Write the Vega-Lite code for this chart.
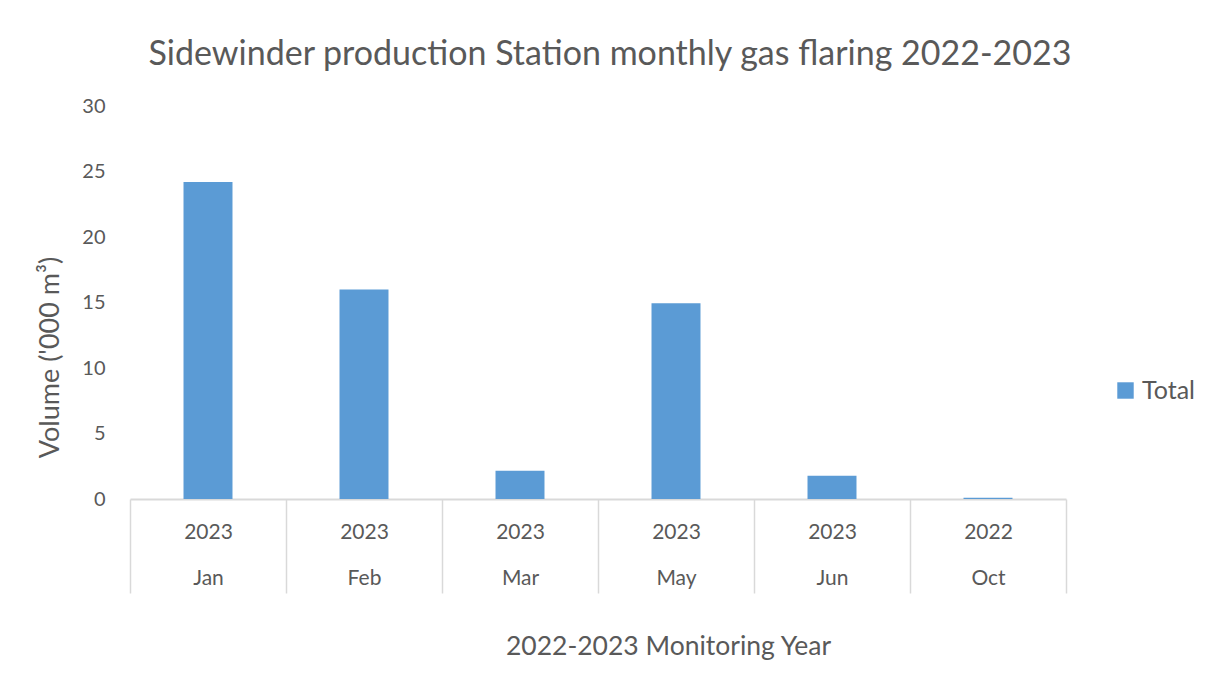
{
  "$schema": "https://vega.github.io/schema/vega-lite/v6.json",
  "autosize": "none",
  "width": 936,
  "height": 393,
  "padding": {"left": 130, "top": 106, "right": 146, "bottom": 197},
  "background": "white",
  "title": {
    "text": "Sidewinder production Station monthly gas flaring 2022-2023",
    "font": "Lato",
    "fontSize": 34,
    "fontWeight": "normal",
    "color": "#595959",
    "anchor": "middle",
    "dx": 12,
    "offset": 24
  },
  "data": {
    "values": [
      {"period": "2023|Jan", "series": "Total", "volume": 24.2},
      {"period": "2023|Feb", "series": "Total", "volume": 16.0},
      {"period": "2023|Mar", "series": "Total", "volume": 2.15},
      {"period": "2023|May", "series": "Total", "volume": 14.95},
      {"period": "2023|Jun", "series": "Total", "volume": 1.78},
      {"period": "2022|Oct", "series": "Total", "volume": 0.1}
    ]
  },
  "mark": {"type": "bar", "width": {"band": 0.314}},
  "encoding": {
    "x": {
      "field": "period",
      "type": "nominal",
      "sort": null,
      "scale": {"paddingInner": 0, "paddingOuter": 0},
      "axis": {
        "title": "2022-2023 Monitoring Year",
        "titleFont": "Lato",
        "titleFontSize": 26.5,
        "titleFontWeight": "normal",
        "titleColor": "#595959",
        "titleX": 538,
        "titleAlign": "center",
        "titlePadding": 40,
        "labelExpr": "isString(datum.value) ? split(datum.value, '|') : ''",
        "labelFont": "Lato",
        "labelFontSize": 21,
        "labelColor": "#595959",
        "labelAngle": 0,
        "labelBaseline": "middle",
        "labelLineHeight": 46,
        "labelPadding": -61,
        "domainColor": "#d9d9d9",
        "domainWidth": 2,
        "tickColor": "#d9d9d9",
        "tickWidth": 1.5,
        "tickSize": 94,
        "tickBand": "extent"
      }
    },
    "y": {
      "field": "volume",
      "type": "quantitative",
      "scale": {"domain": [0, 30]},
      "axis": {
        "title": "Volume ('000 m³)",
        "titleFont": "Lato",
        "titleFontSize": 27,
        "titleFontWeight": "normal",
        "titleColor": "#595959",
        "titlePadding": 17,
        "titleY": 251,
        "values": [0, 5, 10, 15, 20, 25, 30],
        "labelFont": "Lato",
        "labelFontSize": 20,
        "labelColor": "#595959",
        "labelPadding": 25,
        "domain": false,
        "ticks": false,
        "grid": false
      }
    },
    "color": {
      "field": "series",
      "type": "nominal",
      "scale": {"range": ["#5B9BD5"]},
      "legend": {
        "title": null,
        "orient": "none",
        "legendX": 983,
        "legendY": 272,
        "symbolType": "square",
        "symbolSize": 270,
        "labelFont": "Lato",
        "labelFontSize": 25,
        "labelColor": "#595959"
      }
    }
  },
  "config": {"view": {"stroke": null}}
}
